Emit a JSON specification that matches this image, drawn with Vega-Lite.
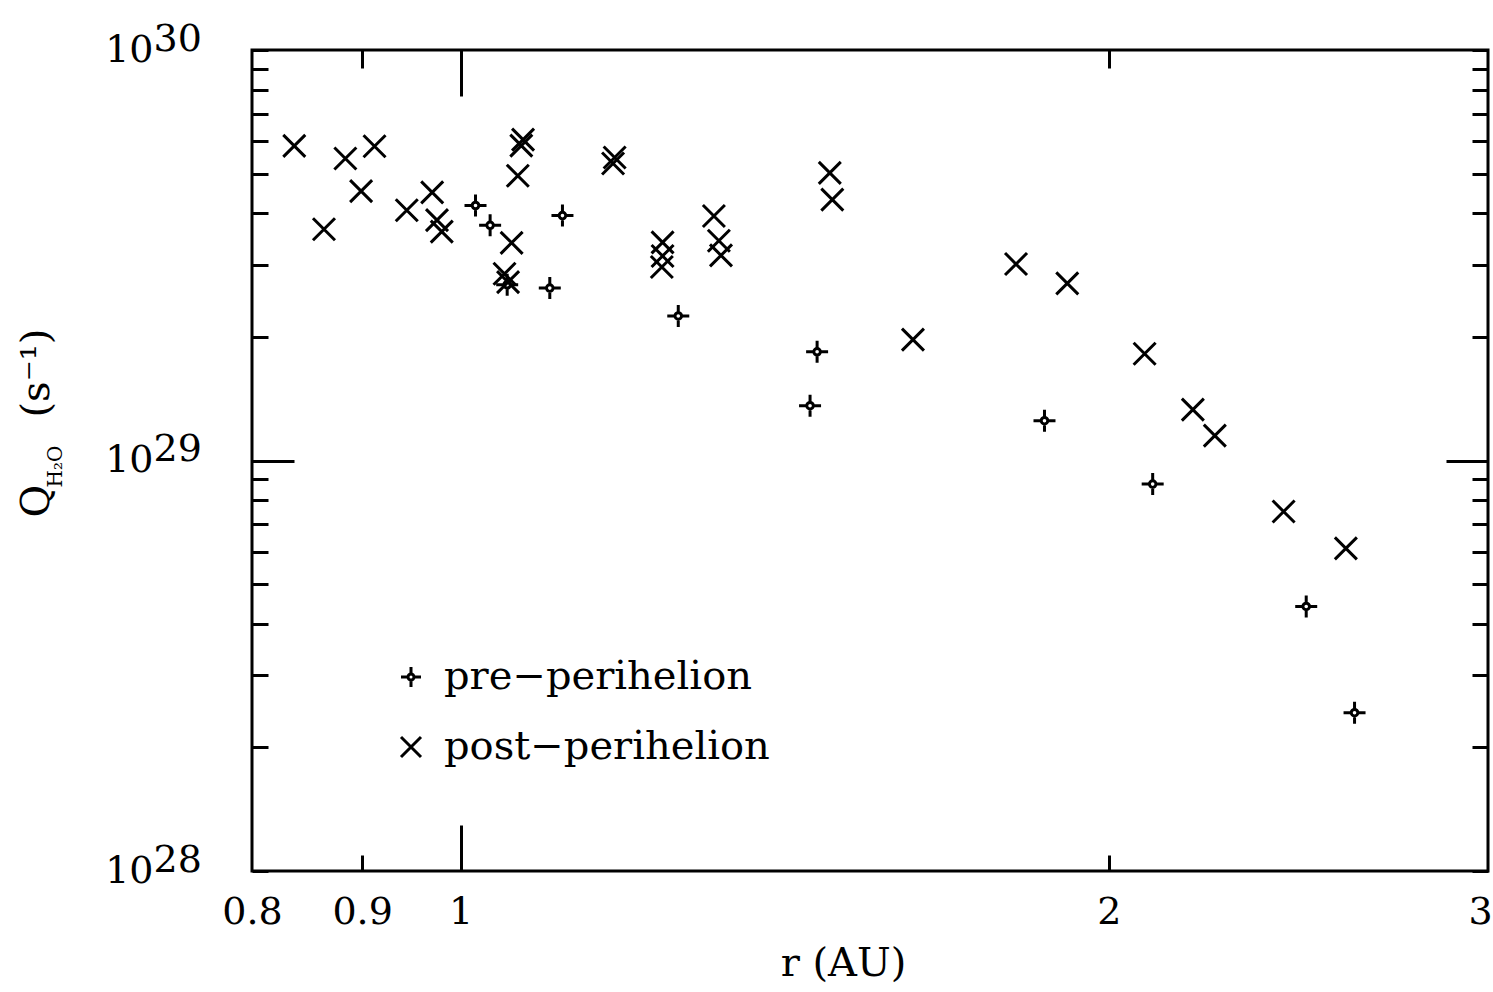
{
  "$schema": "https://vega.github.io/schema/vega-lite/v6.json",
  "width": 1236,
  "height": 821,
  "autosize": {"type": "none"},
  "padding": {"left": 252, "top": 50, "right": 5, "bottom": 121},
  "background": "white",
  "config": {
    "view": {"stroke": "black", "strokeWidth": 3},
    "axis": {
      "grid": false, "domain": false, "tickColor": "black", "tickWidth": 3,
      "labelColor": "black", "titleColor": "black",
      "labelFont": "DejaVu Serif", "titleFont": "DejaVu Serif",
      "labelFontSize": 38, "titleFontSize": 40, "titleFontWeight": "normal",
      "labelFlush": false, "labelOverlap": false, "labelLimit": 0
    },
    "legend": {
      "orient": "none", "legendX": 139, "legendY": 607, "padding": 0,
      "labelFont": "DejaVu Serif", "labelFontSize": 40, "labelColor": "black",
      "labelLimit": 0, "labelOffset": 13, "rowPadding": 30,
      "symbolSize": 400, "symbolStrokeWidth": 3, "symbolStrokeColor": "black"
    }
  },
  "data": {
    "values": [
      {"r": 0.837, "Q": 5.84e29, "phase": "post−perihelion"},
      {"r": 0.864, "Q": 3.66e29, "phase": "post−perihelion"},
      {"r": 0.884, "Q": 5.44e29, "phase": "post−perihelion"},
      {"r": 0.899, "Q": 4.53e29, "phase": "post−perihelion"},
      {"r": 0.912, "Q": 5.83e29, "phase": "post−perihelion"},
      {"r": 0.944, "Q": 4.07e29, "phase": "post−perihelion"},
      {"r": 0.970, "Q": 4.50e29, "phase": "post−perihelion"},
      {"r": 0.975, "Q": 3.85e29, "phase": "post−perihelion"},
      {"r": 0.980, "Q": 3.61e29, "phase": "post−perihelion"},
      {"r": 1.048, "Q": 2.85e29, "phase": "post−perihelion"},
      {"r": 1.052, "Q": 2.72e29, "phase": "post−perihelion"},
      {"r": 1.056, "Q": 3.39e29, "phase": "post−perihelion"},
      {"r": 1.063, "Q": 4.94e29, "phase": "post−perihelion"},
      {"r": 1.069, "Q": 6.05e29, "phase": "post−perihelion"},
      {"r": 1.067, "Q": 5.85e29, "phase": "post−perihelion"},
      {"r": 1.179, "Q": 5.47e29, "phase": "post−perihelion"},
      {"r": 1.177, "Q": 5.29e29, "phase": "post−perihelion"},
      {"r": 1.241, "Q": 3.40e29, "phase": "post−perihelion"},
      {"r": 1.241, "Q": 3.15e29, "phase": "post−perihelion"},
      {"r": 1.240, "Q": 2.96e29, "phase": "post−perihelion"},
      {"r": 1.311, "Q": 3.94e29, "phase": "post−perihelion"},
      {"r": 1.318, "Q": 3.43e29, "phase": "post−perihelion"},
      {"r": 1.321, "Q": 3.16e29, "phase": "post−perihelion"},
      {"r": 1.484, "Q": 5.02e29, "phase": "post−perihelion"},
      {"r": 1.488, "Q": 4.32e29, "phase": "post−perihelion"},
      {"r": 1.622, "Q": 1.97e29, "phase": "post−perihelion"},
      {"r": 1.811, "Q": 3.01e29, "phase": "post−perihelion"},
      {"r": 1.913, "Q": 2.70e29, "phase": "post−perihelion"},
      {"r": 2.078, "Q": 1.82e29, "phase": "post−perihelion"},
      {"r": 2.188, "Q": 1.33e29, "phase": "post−perihelion"},
      {"r": 2.240, "Q": 1.15e29, "phase": "post−perihelion"},
      {"r": 2.411, "Q": 7.51e28, "phase": "post−perihelion"},
      {"r": 2.577, "Q": 6.11e28, "phase": "post−perihelion"},
      {"r": 1.016, "Q": 4.18e29, "phase": "pre−perihelion"},
      {"r": 1.032, "Q": 3.74e29, "phase": "pre−perihelion"},
      {"r": 1.051, "Q": 2.68e29, "phase": "pre−perihelion"},
      {"r": 1.100, "Q": 2.63e29, "phase": "pre−perihelion"},
      {"r": 1.115, "Q": 3.95e29, "phase": "pre−perihelion"},
      {"r": 1.262, "Q": 2.25e29, "phase": "pre−perihelion"},
      {"r": 1.453, "Q": 1.36e29, "phase": "pre−perihelion"},
      {"r": 1.464, "Q": 1.84e29, "phase": "pre−perihelion"},
      {"r": 1.867, "Q": 1.25e29, "phase": "pre−perihelion"},
      {"r": 2.096, "Q": 8.76e28, "phase": "pre−perihelion"},
      {"r": 2.470, "Q": 4.41e28, "phase": "pre−perihelion"},
      {"r": 2.601, "Q": 2.43e28, "phase": "pre−perihelion"}
    ]
  },
  "resolve": {"axis": {"x": "independent", "y": "independent"}},
  "layer": [
    {
      "mark": {"type": "point", "filled": false, "color": "black", "strokeWidth": 3, "size": 484, "opacity": 1},
      "encoding": {
        "x": {
          "field": "r", "type": "quantitative",
          "scale": {"type": "log", "domain": [0.8, 3], "nice": false},
          "axis": {
            "orient": "bottom", "values": [0.8, 0.9, 1, 2, 3], "ticks": false, "tickSize": 0,
            "labelPadding": 22, "format": "~g",
            "labelOffset": {"condition": {"test": "datum.value == 3", "value": -8}, "value": 0},
            "title": "r (AU)", "titleX": 591, "titleY": 104, "titleBaseline": "alphabetic"
          }
        },
        "y": {
          "field": "Q", "type": "quantitative",
          "scale": {"type": "log", "domain": [1e28, 1e30], "nice": false},
          "axis": {
            "orient": "left", "values": [1e28, 1e29, 1e30], "ticks": false, "tickSize": 0,
            "labelExpr": "'10'", "labelAlign": "right", "labelBaseline": "middle", "labelPadding": 99,
            "title": "Q", "titleAngle": 270, "titleAlign": "left", "titleBaseline": "alphabetic",
            "titleX": -204, "titleY": 467
          }
        },
        "shape": {
          "field": "phase", "type": "nominal",
          "scale": {
            "domain": ["pre−perihelion", "post−perihelion"],
            "range": [
              "M0,-1L0,-0.3M0,0.3L0,1M-1,0L-0.3,0M0.3,0L1,0M0.3,0A0.3,0.3,0,1,1,-0.3,0A0.3,0.3,0,1,1,0.3,0",
              "M-1,-1L1,1M-1,1L1,-1"
            ]
          },
          "legend": {"title": null}
        }
      }
    },
    {
      "mark": {"type": "point", "opacity": 0},
      "encoding": {
        "x": {
          "field": "r", "type": "quantitative",
          "scale": {"type": "log", "domain": [0.8, 3], "nice": false},
          "axis": {
            "orient": "bottom", "values": [0.9, 1, 2], "labels": false, "title": null,
            "tickSize": {"condition": {"test": "datum.value == 1", "value": -46}, "value": -16}
          }
        },
        "y": {
          "field": "Q", "type": "quantitative",
          "scale": {"type": "log", "domain": [1e28, 1e30], "nice": false},
          "axis": {
            "orient": "left",
            "values": [1e28, 2e28, 3e28, 4e28, 5e28, 6e28, 7e28, 8e28, 9e28, 1e29, 2e29, 3e29, 4e29, 5e29, 6e29, 7e29, 8e29, 9e29, 1e30],
            "labels": false,
            "tickSize": {"condition": {"test": "datum.value > 9.5e28 && datum.value < 1.05e29", "value": -42}, "value": -16},
            "title": "H₂O", "titleFontSize": 20, "titleAngle": 270, "titleAlign": "left", "titleBaseline": "alphabetic",
            "titleX": -191, "titleY": 437
          }
        }
      }
    },
    {
      "mark": {"type": "point", "opacity": 0},
      "encoding": {
        "x": {
          "field": "r", "type": "quantitative",
          "scale": {"type": "log", "domain": [0.8, 3], "nice": false},
          "axis": {
            "orient": "top", "values": [0.9, 1, 2], "labels": false, "title": null,
            "tickSize": {"condition": {"test": "datum.value == 1", "value": -46}, "value": -18}
          }
        },
        "y": {
          "field": "Q", "type": "quantitative",
          "scale": {"type": "log", "domain": [1e28, 1e30], "nice": false},
          "axis": {
            "orient": "right",
            "values": [1e28, 2e28, 3e28, 4e28, 5e28, 6e28, 7e28, 8e28, 9e28, 1e29, 2e29, 3e29, 4e29, 5e29, 6e29, 7e29, 8e29, 9e29, 1e30],
            "labels": false, "title": null,
            "tickSize": {"condition": {"test": "datum.value > 9.5e28 && datum.value < 1.05e29", "value": -42}, "value": -16}
          }
        }
      }
    },
    {
      "mark": {"type": "point", "opacity": 0},
      "encoding": {
        "x": {
          "field": "r", "type": "quantitative",
          "scale": {"type": "log", "domain": [0.8, 3], "nice": false},
          "axis": null
        },
        "y": {
          "field": "Q", "type": "quantitative",
          "scale": {"type": "log", "domain": [1e28, 1e30], "nice": false},
          "axis": {
            "orient": "left", "values": [1e28, 1e29, 1e30], "ticks": false, "tickSize": 0,
            "labelExpr": "'' + round(log(datum.value) / LN10)", "labelAlign": "left", "labelBaseline": "alphabetic",
            "labelPadding": 99,
            "title": "(s⁻¹)", "titleAngle": 270, "titleAlign": "left", "titleBaseline": "alphabetic",
            "titleX": -204, "titleY": 367
          }
        }
      }
    }
  ]
}
